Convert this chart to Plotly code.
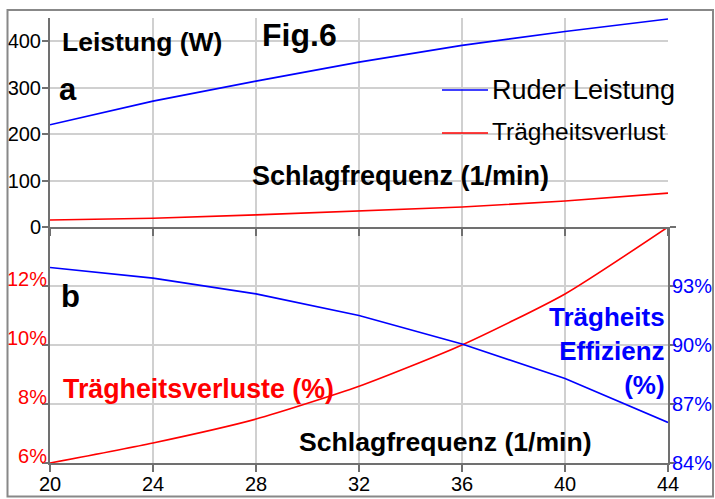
import plotly.graph_objects as go

# ---- data ----
freq = [20, 24, 28, 32, 36, 40, 44]
ruder_leistung_w = [220, 271, 314, 355, 391, 421, 448]
traegheitsverlust_w = [15, 19, 26, 34, 43, 56, 73]
traegheitsverluste_pct = [6.0, 6.68, 7.49, 8.6, 10.0, 11.73, 14.0]
traegheits_effizienz_pct = [93.94, 93.4, 92.6, 91.5, 90.05, 88.3, 86.06]

x_ticks = [20, 24, 28, 32, 36, 40, 44]
top_ticks = [0, 100, 200, 300, 400]
left_ticks = [6, 8, 10, 12, 14]
left_text = ["6%", "8%", "10%", "12%", ""]
right_ticks = [84, 87, 90, 93, 96]
right_text = ["84%", "87%", "90%", "93%", ""]

BLUE = "rgb(0,0,255)"
RED = "rgb(255,0,0)"
GRID = "rgb(208,208,208)"
AXIS = "rgb(112,112,112)"
FONT = "Liberation Sans, Arial, sans-serif"

W, H = 715, 499
L, R, T, B = 50, 47, 18, 36
PW, PH = W - L - R, H - T - B


def px(xp):
    return (xp - L) / PW


def py(yp):
    return (H - B - yp) / PH


split = py(227)

fig = go.Figure()
fig.add_trace(go.Scatter(x=freq, y=ruder_leistung_w, mode="lines", xaxis="x2", yaxis="y",
                         line=dict(color=BLUE, width=1.6), name="Ruder Leistung"))
fig.add_trace(go.Scatter(x=freq, y=traegheitsverlust_w, mode="lines", xaxis="x2", yaxis="y",
                         line=dict(color=RED, width=1.6), name="Trägheitsverlust"))
fig.add_trace(go.Scatter(x=freq, y=traegheitsverluste_pct, mode="lines", xaxis="x", yaxis="y2",
                         line=dict(color=RED, width=1.6, shape="spline", smoothing=0.6),
                         name="Trägheitsverluste (%)"))
fig.add_trace(go.Scatter(x=freq, y=traegheits_effizienz_pct, mode="lines", xaxis="x", yaxis="y3",
                         line=dict(color=BLUE, width=1.6), name="Trägheits Effizienz (%)"))

common_x = dict(range=[20, 44], tickvals=x_ticks, showgrid=True, gridcolor=GRID, gridwidth=1.5,
                showline=True, linecolor=AXIS, linewidth=2, ticks="outside", ticklen=7,
                tickcolor=AXIS, tickwidth=1.5, zeroline=False, automargin=False)
common_y = dict(zeroline=False, showline=True, linecolor=AXIS, linewidth=2, ticks="outside",
                ticklen=6, tickcolor=AXIS, tickwidth=1.5, automargin=False)

fig.update_layout(
    width=W, height=H,
    margin=dict(l=L, r=R, t=T, b=B, autoexpand=False),
    paper_bgcolor="white", plot_bgcolor="white",
    showlegend=False,
    font=dict(family=FONT, size=20, color="black"),
    xaxis=dict(domain=[0, 1], anchor="y2", tickfont=dict(size=20, color="black"),
               ticklabelstandoff=-5, **common_x),
    xaxis2=dict(domain=[0, 1], anchor="y", matches="x", showticklabels=False, **common_x),
    yaxis=dict(domain=[split, 1], anchor="x2", range=[0, 450], tickvals=top_ticks,
               showgrid=True, gridcolor=GRID, gridwidth=1.5, ticklabelstandoff=-3,
               tickfont=dict(size=20, color="black"), **common_y),
    yaxis2=dict(domain=[0, split], anchor="x", range=[6, 14], tickvals=left_ticks, ticktext=left_text,
                showgrid=True, gridcolor=GRID, gridwidth=1.5, ticklabelstandoff=-9,
                ticklabelshift=-7,
                tickfont=dict(size=20, color=RED), **common_y),
    yaxis3=dict(overlaying="y2", side="right", anchor="x", range=[84, 96], tickvals=right_ticks,
                ticktext=right_text, showgrid=False, ticklabelstandoff=-8,
                tickfont=dict(size=20, color=BLUE), **common_y),
)

# outer frame
fig.add_shape(type="rect", xref="paper", yref="paper",
              x0=px(7.5), x1=px(713), y0=py(496.5), y1=py(10),
              line=dict(color="rgb(136,136,136)", width=2), fillcolor="rgba(0,0,0,0)")

# legend (manual)
fig.add_shape(type="line", xref="paper", yref="paper", x0=px(442), x1=px(488), y0=py(90), y1=py(90),
              line=dict(color=BLUE, width=1.6))
fig.add_shape(type="line", xref="paper", yref="paper", x0=px(442), x1=px(488), y0=py(133), y1=py(133),
              line=dict(color=RED, width=1.6))


def ann(text, x, y, size, color="black", bold=True, xanchor="left", align="left"):
    t = f"<b>{text}</b>" if bold else text
    fig.add_annotation(text=t, xref="paper", yref="paper", x=px(x), y=py(y),
                       xanchor=xanchor, yanchor="middle", showarrow=False, align=align,
                       font=dict(family=FONT, size=size, color=color))


ann("Ruder Leistung", 490, 90, 27, bold=False)
ann("Trägheitsverlust", 490, 131, 24.5, bold=False)
ann("Leistung (W)", 60, 42, 26.5)
ann("Fig.6", 260, 35, 32)
ann("a", 57, 89, 31)
ann("Schlagfrequenz (1/min)", 400, 176, 27, xanchor="center")
ann("b", 59, 296, 31)
ann("Trägheitsverluste (%)", 61, 389, 26.8, color=RED)
ann("Trägheits<br>Effizienz<br>(%)", 667, 351, 26, color=BLUE, xanchor="right", align="right")
ann("Schlagfrequenz (1/min)", 445, 442, 26.6, xanchor="center")

fig.write_html("out.html")
